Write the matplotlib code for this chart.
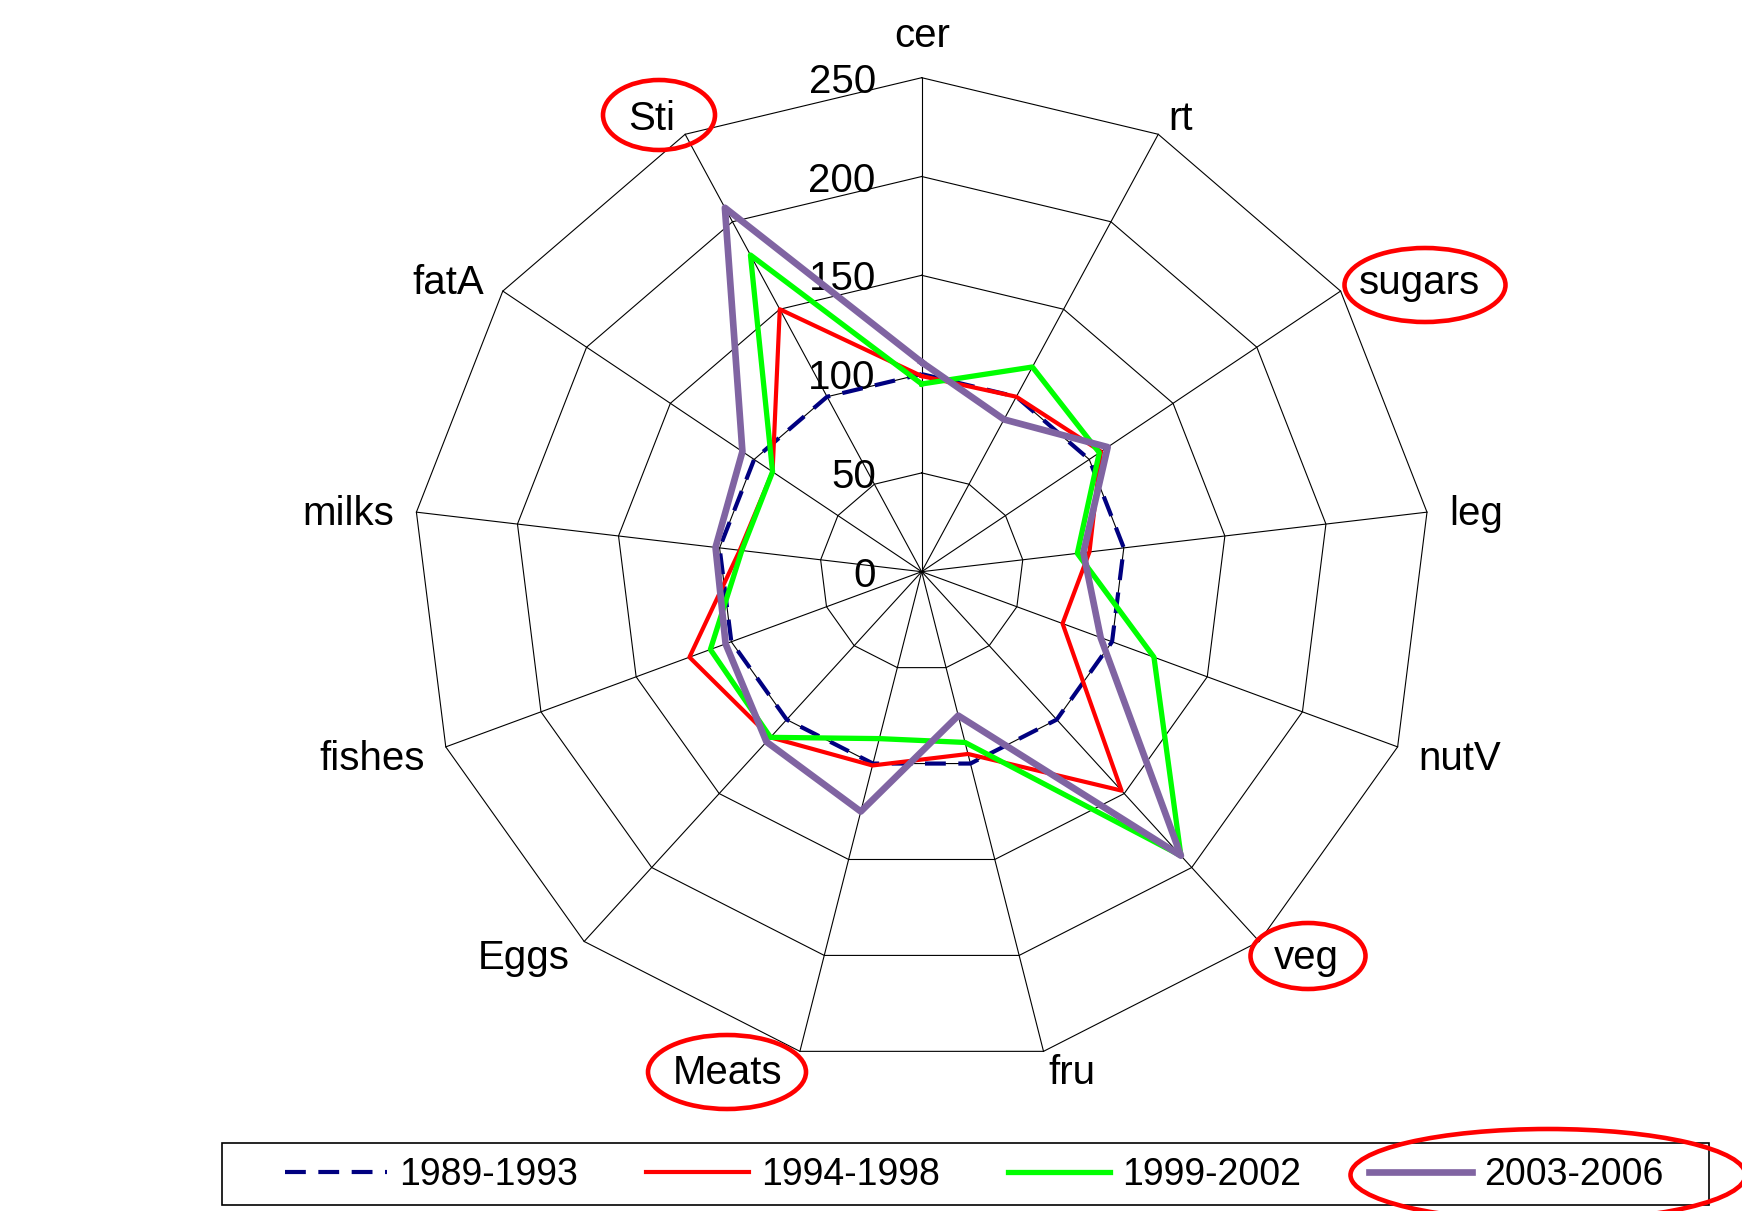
import numpy as np
import matplotlib
matplotlib.use("Agg")
import matplotlib.pyplot as plt
from matplotlib.patches import Ellipse, Rectangle

plt.rcParams['font.family'] = ['Liberation Sans', 'DejaVu Sans']

# categories, clockwise from the top
cats = ["cer", "rt", "sugars", "leg", "nutV", "veg", "fru",
        "Meats", "Eggs", "fishes", "milks", "fatA", "Sti"]

# index values per period
p1989 = [100, 100, 100, 100, 100, 100, 100, 100, 100, 100, 100, 100, 100]
p1994 = [99, 100, 107, 83, 74, 148, 95, 101, 112, 122, 90, 89, 150]
p1999 = [95, 117, 106, 77, 122, 192, 89, 87, 112, 111, 89, 89, 181]
p2003 = [106, 87, 111, 80, 94, 192, 75, 125, 115, 103, 102, 107, 208]

periods = ["1989-1993", "1994-1998", "1999-2002", "2003-2006"]
ticks = [0, 50, 100, 150, 200, 250]

W, H = 1742, 1211
fig = plt.figure(figsize=(W / 100, H / 100), dpi=100)
ax = fig.add_axes([0, 0, 1, 1])

# centre of the web and pixels per unit (picture is slightly wider than tall)
cx, cy = 921.7, 571.7
sx, sy = 2.036, 1.976
ax.set_xlim(-cx / sx, (W - cx) / sx)
ax.set_ylim(-(H - cy) / sy, cy / sy)
ax.axis('off')

n = len(cats)
th = np.arange(n) * 2 * np.pi / n
ux, uy = np.sin(th), np.cos(th)

def closed(vals):
    v = np.asarray(vals, float)
    x, y = v * ux, v * uy
    return np.append(x, x[0]), np.append(y, y[0])

# web grid
rmax = ticks[-1]
for t in ticks[1:]:
    gx, gy = closed([t] * n)
    ax.plot(gx, gy, color='black', lw=0.8, zorder=1)
for k in range(n):
    ax.plot([0, rmax * ux[k]], [0, rmax * uy[k]], color='black', lw=0.8, zorder=1)

# radial tick labels
for t in ticks:
    ax.annotate(str(t), xy=(0, t), xytext=(-33, -3), textcoords='offset points',
                ha='right', va='center', fontsize=29, zorder=2)

# category labels
d = 16
nudge = {"Meats": -9}
for k, c in enumerate(cats):
    if ux[k] > 0.05:
        ha = 'left'
    elif ux[k] < -0.05:
        ha = 'right'
    else:
        ha = 'center'
    va = 'bottom' if uy[k] > 0.99 else 'center'
    xo = d * ux[k] + nudge.get(c, 0)
    yo = d * uy[k]
    if -0.5 < uy[k] < 0.99:
        yo -= 3
    ax.annotate(c, xy=(rmax * ux[k], rmax * uy[k]), xytext=(xo, yo),
                textcoords='offset points', ha=ha, va=va, fontsize=29)

# series
x, y = closed(p1989)
ax.plot(x, y, color='#000080', lw=3.0, ls=(0, (5, 3)), label=periods[0], zorder=3)
x, y = closed(p1994)
ax.plot(x, y, color='#FF0000', lw=3.0, label=periods[1], zorder=4)
x, y = closed(p1999)
ax.plot(x, y, color='#00FF00', lw=3.8, label=periods[2], zorder=5)
x, y = closed(p2003)
ax.plot(x, y, color='#8064A2', lw=4.8, label=periods[3], zorder=6)

# legend with a plain box round it
fig.legend(loc='center', bbox_to_anchor=(974 / W, 1 - 1175 / H), ncol=4,
           frameon=False, fontsize=27, handlelength=2.74, handletextpad=0.32,
           columnspacing=1.81)
fig.add_artist(Rectangle((221.6 / W, 1 - 1205 / H), (1709.3 - 221.6) / W,
                         (1205 - 1143.3) / H, transform=fig.transFigure,
                         fill=False, ec='black', lw=1.2))

# red hand-drawn style marks
marks = [(659, 115, 112, 70), (1425, 285, 161, 74), (1308, 956, 115, 66),
         (727, 1072, 158, 74), (1548, 1175, 395, 92)]
for mx, my, mw, mh in marks:
    fig.add_artist(Ellipse((mx / W, 1 - my / H), mw / W, mh / H,
                           transform=fig.transFigure, fill=False,
                           ec='#FF0000', lw=3.3))

fig.savefig('out.png', dpi=100)
